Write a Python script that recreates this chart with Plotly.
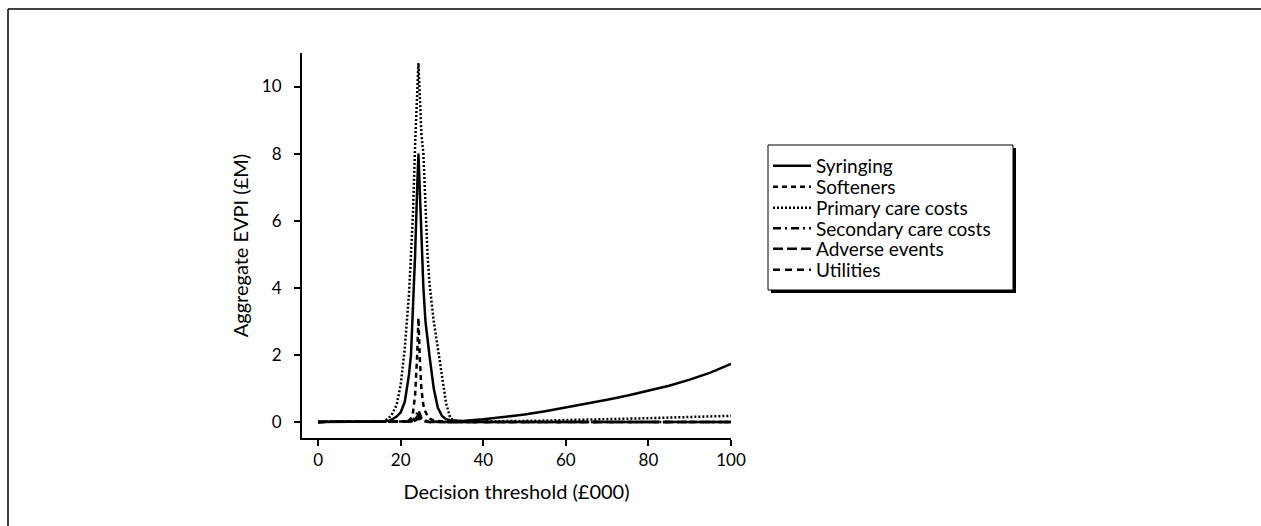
import plotly.graph_objects as go

# Decision threshold (£000)
threshold = [0, 5, 10, 14, 16, 17, 18, 19, 20, 21,
             22, 22.5, 23, 23.5, 24, 24.3, 24.6, 25, 25.5, 26,
             26.5, 27, 28, 29, 30, 31, 32, 33, 35, 40,
             45, 50, 55, 60, 65, 70, 75, 80, 85, 90,
             95, 100]

syringing = [0, 0, 0, 0, 0.01, 0.03, 0.08, 0.16, 0.28, 0.6,
             1.4, 2.0, 3.3, 5.0, 7.0, 8.0, 7.0, 5.6, 4.0, 3.0,
             2.4, 1.95, 1.0, 0.42, 0.18, 0.08, 0.05, 0.04, 0.03, 0.08,
             0.15, 0.22, 0.32, 0.43, 0.54, 0.66, 0.79, 0.93, 1.08, 1.26,
             1.47, 1.73]

softeners = [0, 0, 0, 0, 0, 0, 0, 0, 0, 0.01,
             0.05, 0.1, 0.3, 0.8, 2.0, 3.1, 2.0, 1.0, 0.5, 0.3,
             0.18, 0.1, 0.04, 0.02, 0.01, 0, 0, 0, 0, 0,
             0, 0, 0, 0, 0, 0, 0, 0, 0, 0,
             0, 0]

primary_care = [0, 0, 0, 0, 0.02, 0.1, 0.25, 0.5, 1.1, 2.2,
                3.8, 5.0, 6.3, 8.3, 9.8, 10.7, 9.8, 8.6, 8.0, 6.2,
                5.0, 4.1, 3.0, 2.2, 1.4, 0.55, 0.12, 0.03, 0.01, 0.01,
                0.02, 0.03, 0.04, 0.05, 0.06, 0.08, 0.09, 0.11, 0.13, 0.14,
                0.16, 0.18]

secondary_care = [0, 0, 0, 0, 0, 0, 0, 0, 0, 0,
                  0.01, 0.02, 0.05, 0.12, 0.28, 0.35, 0.25, 0.12, 0.06, 0.03,
                  0.02, 0.01, 0, 0, 0, 0, 0, 0, 0, 0,
                  0, 0, 0, 0, 0, 0, 0, 0, 0, 0,
                  0, 0]

adverse_events = [0, 0, 0, 0, 0, 0, 0, 0, 0, 0,
                  0, 0.01, 0.03, 0.08, 0.16, 0.2, 0.15, 0.08, 0.04, 0.02,
                  0.01, 0, 0, 0, 0, 0, 0, 0, 0, 0,
                  0, 0, 0, 0, 0, 0, 0, 0, 0, 0,
                  0, 0]

utilities = [0, 0, 0, 0, 0, 0, 0, 0, 0, 0,
             0, 0, 0.01, 0.04, 0.08, 0.1, 0.07, 0.03, 0.01, 0,
             0, 0, 0, 0, 0, 0, 0, 0, 0, 0,
             0, 0, 0, 0, 0, 0, 0, 0, 0, 0,
             0, 0]

series_names = ["Syringing", "Softeners", "Primary care costs",
                "Secondary care costs", "Adverse events", "Utilities"]
series_values = [syringing, softeners, primary_care,
                 secondary_care, adverse_events, utilities]
dash_styles = ["solid", "5px,4px", "2px,2px", "8px,4px,2px,4px", "10px,4px", "7px,5px"]

x_ticks = [0, 20, 40, 60, 80, 100]
y_ticks = [0, 2, 4, 6, 8, 10]

FONT = "Lato"
FS = 17
LEG_FS = 19

# plot area in pixels: x 302..731, y 53..438
W, H = 1261, 526
L, R, T, B = 302, 731, 53, 438
pw, ph = R - L, B - T

def px_x(p):
    return (p - L) / pw

def px_y(p):
    return (B - p) / ph

legend_ids = ["legend", "legend2", "legend3", "legend4", "legend5", "legend6"]
legend_rows_px = [166, 187, 208, 228.5, 249, 270]

fig = go.Figure()
for name, vals, dash, lid in zip(series_names, series_values, dash_styles, legend_ids):
    fig.add_trace(go.Scatter(
        x=threshold, y=vals, mode="lines", name=name, legend=lid,
        line=dict(color="black", width=2.5, dash=dash),
    ))

shapes = [
    # outer frame (top and left edges)
    dict(type="line", xref="paper", yref="paper",
         x0=px_x(8), x1=px_x(1275), y0=px_y(9), y1=px_y(9),
         line=dict(color="black", width=1.5)),
    dict(type="line", xref="paper", yref="paper",
         x0=px_x(8), x1=px_x(8), y0=px_y(9), y1=px_y(540),
         line=dict(color="black", width=1.5)),
    # legend shadow and box
    dict(type="rect", xref="paper", yref="paper",
         x0=px_x(771), x1=px_x(1016), y0=px_y(148), y1=px_y(293),
         fillcolor="black", line=dict(width=0)),
    dict(type="rect", xref="paper", yref="paper",
         x0=px_x(768), x1=px_x(1013), y0=px_y(145), y1=px_y(290),
         fillcolor="white", line=dict(color="black", width=1)),
]

layout_legends = {}
for lid, row in zip(legend_ids, legend_rows_px):
    layout_legends[lid] = dict(
        x=px_x(768), y=px_y(row), xanchor="left", yanchor="middle",
        bgcolor="rgba(0,0,0,0)", borderwidth=0,
        font=dict(family=FONT, size=LEG_FS, color="black"),
        itemwidth=38,
    )

fig.update_layout(
    width=W, height=H,
    margin=dict(l=L, r=W - R, t=T, b=H - B, autoexpand=False),
    paper_bgcolor="white", plot_bgcolor="white",
    font=dict(family=FONT, size=FS, color="black"),
    showlegend=True,
    shapes=shapes,
    xaxis=dict(
        range=[-3.9, 100], tickvals=x_ticks, ticktext=[str(v) for v in x_ticks],
        showline=True, linecolor="black", linewidth=2,
        ticks="outside", ticklen=6, tickwidth=1.5, tickcolor="black",
        showgrid=False, zeroline=False,
        title=dict(text="Decision threshold (£000)", standoff=16),
    ),
    yaxis=dict(
        range=[-0.48, 11], tickvals=y_ticks, ticktext=[str(v) for v in y_ticks],
        showline=True, linecolor="black", linewidth=2,
        ticks="outside", ticklen=6, tickwidth=1.5, tickcolor="black",
        ticklabelstandoff=9,
        showgrid=False, zeroline=False,
        title=dict(text="Aggregate EVPI (£M)", standoff=8),
    ),
    **layout_legends,
)

fig.write_html("out.html")
